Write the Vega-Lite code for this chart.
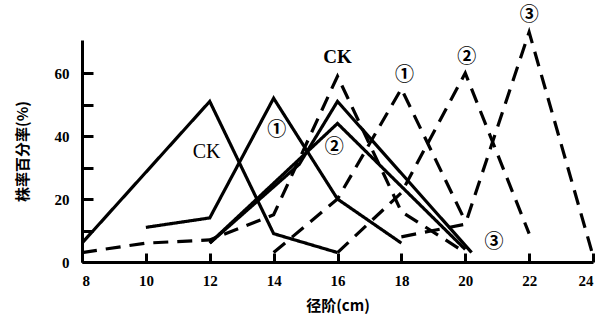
{
  "$schema": "https://vega.github.io/schema/vega-lite/v6.json",
  "autosize": {"type": "none"},
  "width": 511,
  "height": 222,
  "padding": {"left": 82, "top": 40, "right": 6, "bottom": 63},
  "background": "white",
  "config": {"view": {"stroke": null}},
  "datasets": {
    "lines": [
      {"g": "CK实", "t": "solid", "x": 8, "y": 6},
      {"g": "CK实", "t": "solid", "x": 12, "y": 51},
      {"g": "CK实", "t": "solid", "x": 14, "y": 9},
      {"g": "CK实", "t": "solid", "x": 16, "y": 3},
      {"g": "1实", "t": "solid", "x": 10, "y": 11},
      {"g": "1实", "t": "solid", "x": 12, "y": 14},
      {"g": "1实", "t": "solid", "x": 14, "y": 52},
      {"g": "1实", "t": "solid", "x": 16, "y": 20},
      {"g": "1实", "t": "solid", "x": 18, "y": 6},
      {"g": "2实", "t": "solid", "x": 12, "y": 6},
      {"g": "2实", "t": "solid", "x": 16, "y": 44},
      {"g": "2实", "t": "solid", "x": 20, "y": 4},
      {"g": "3实", "t": "solid", "x": 12, "y": 6},
      {"g": "3实", "t": "solid", "x": 14.8, "y": 31},
      {"g": "3实", "t": "solid", "x": 16, "y": 51},
      {"g": "3实", "t": "solid", "x": 20.2, "y": 3},
      {"g": "CK虚", "t": "dashed", "x": 8, "y": 3},
      {"g": "CK虚", "t": "dashed", "x": 10, "y": 6},
      {"g": "CK虚", "t": "dashed", "x": 12, "y": 7},
      {"g": "CK虚", "t": "dashed", "x": 14, "y": 15},
      {"g": "CK虚", "t": "dashed", "x": 16, "y": 59},
      {"g": "CK虚", "t": "dashed", "x": 18, "y": 16},
      {"g": "CK虚", "t": "dashed", "x": 20, "y": 3},
      {"g": "1虚", "t": "dashed", "x": 14, "y": 3},
      {"g": "1虚", "t": "dashed", "x": 16, "y": 20},
      {"g": "1虚", "t": "dashed", "x": 18, "y": 55},
      {"g": "1虚", "t": "dashed", "x": 20, "y": 13},
      {"g": "2虚", "t": "dashed", "x": 16, "y": 3},
      {"g": "2虚", "t": "dashed", "x": 18, "y": 22},
      {"g": "2虚", "t": "dashed", "x": 20, "y": 60},
      {"g": "2虚", "t": "dashed", "x": 22, "y": 9},
      {"g": "3虚", "t": "dashed", "x": 18, "y": 8},
      {"g": "3虚", "t": "dashed", "x": 20, "y": 12},
      {"g": "3虚", "t": "dashed", "x": 22, "y": 73},
      {"g": "3虚", "t": "dashed", "x": 24, "y": 2}
    ],
    "labels": [
      {"label": "CK", "f": "serif", "x": 11.9, "y": 35},
      {"label": "①", "f": "circ", "x": 14.1, "y": 42},
      {"label": "②", "f": "circ", "x": 15.9, "y": 36.5},
      {"label": "③", "f": "circ", "x": 20.9, "y": 6.3},
      {"label": "CK", "f": "sans", "x": 16, "y": 65},
      {"label": "①", "f": "circ", "x": 18.1, "y": 59.5},
      {"label": "②", "f": "circ", "x": 20.05, "y": 65},
      {"label": "③", "f": "circ", "x": 22, "y": 78.5}
    ]
  },
  "encoding": {
    "x": {
      "field": "x", "type": "quantitative",
      "scale": {"domain": [8, 24], "nice": false, "zero": false},
      "axis": {
        "values": [8, 10, 12, 14, 16, 18, 20, 22, 24],
        "grid": false, "ticks": true,
        "domainColor": "black", "domainWidth": 3,
        "tickColor": "black", "tickWidth": 3, "tickSize": -9, "tickOpacity": 1,
        "labelFont": "Liberation Serif", "labelFontWeight": "bold", "labelFontSize": 15,
        "labelColor": "black", "labelPadding": 20,
        "title": "径阶(cm)",
        "titleFont": "Noto Sans CJK SC", "titleFontWeight": "bold", "titleFontSize": 15,
        "titleColor": "black", "titlePadding": 10
      }
    },
    "y": {
      "field": "y", "type": "quantitative",
      "scale": {"domain": [0, 70.5], "nice": false},
      "axis": {
        "values": [0, 10, 20, 30, 40, 50, 60],
        "labelExpr": "datum.value % 20 == 0 ? datum.label : ''",
        "grid": false, "ticks": true,
        "domainColor": "black", "domainWidth": 3,
        "tickColor": "black", "tickWidth": 3, "tickSize": -11, "tickOpacity": 1,
        "labelFont": "Liberation Serif", "labelFontWeight": "bold", "labelFontSize": 15,
        "labelColor": "black", "labelPadding": 24,
        "title": "株率百分率(%)",
        "titleFont": "Noto Sans CJK SC", "titleFontWeight": "bold", "titleFontSize": 15,
        "titleColor": "black", "titlePadding": 24
      }
    }
  },
  "layer": [
    {
      "data": {"name": "lines"},
      "mark": {"type": "line", "color": "black", "strokeWidth": 3.2, "clip": false},
      "encoding": {
        "detail": {"field": "g", "type": "nominal"},
        "strokeDash": {
          "field": "t", "type": "nominal",
          "scale": {"domain": ["solid", "dashed"], "range": [[1, 0], [15, 9]]},
          "legend": null
        }
      }
    },
    {
      "data": {"name": "labels"},
      "transform": [{"filter": "datum.f == 'serif'"}],
      "mark": {"type": "text", "font": "Liberation Serif", "fontSize": 20, "color": "black"},
      "encoding": {"text": {"field": "label"}}
    },
    {
      "data": {"name": "labels"},
      "transform": [{"filter": "datum.f == 'sans'"}],
      "mark": {"type": "text", "font": "Liberation Serif", "fontWeight": "bold", "fontSize": 19, "color": "black"},
      "encoding": {"text": {"field": "label"}}
    },
    {
      "data": {"name": "labels"},
      "transform": [{"filter": "datum.f == 'circ'"}],
      "mark": {"type": "text", "font": "Noto Sans CJK SC", "fontWeight": "bold", "fontSize": 19, "color": "black"},
      "encoding": {"text": {"field": "label"}}
    }
  ]
}
